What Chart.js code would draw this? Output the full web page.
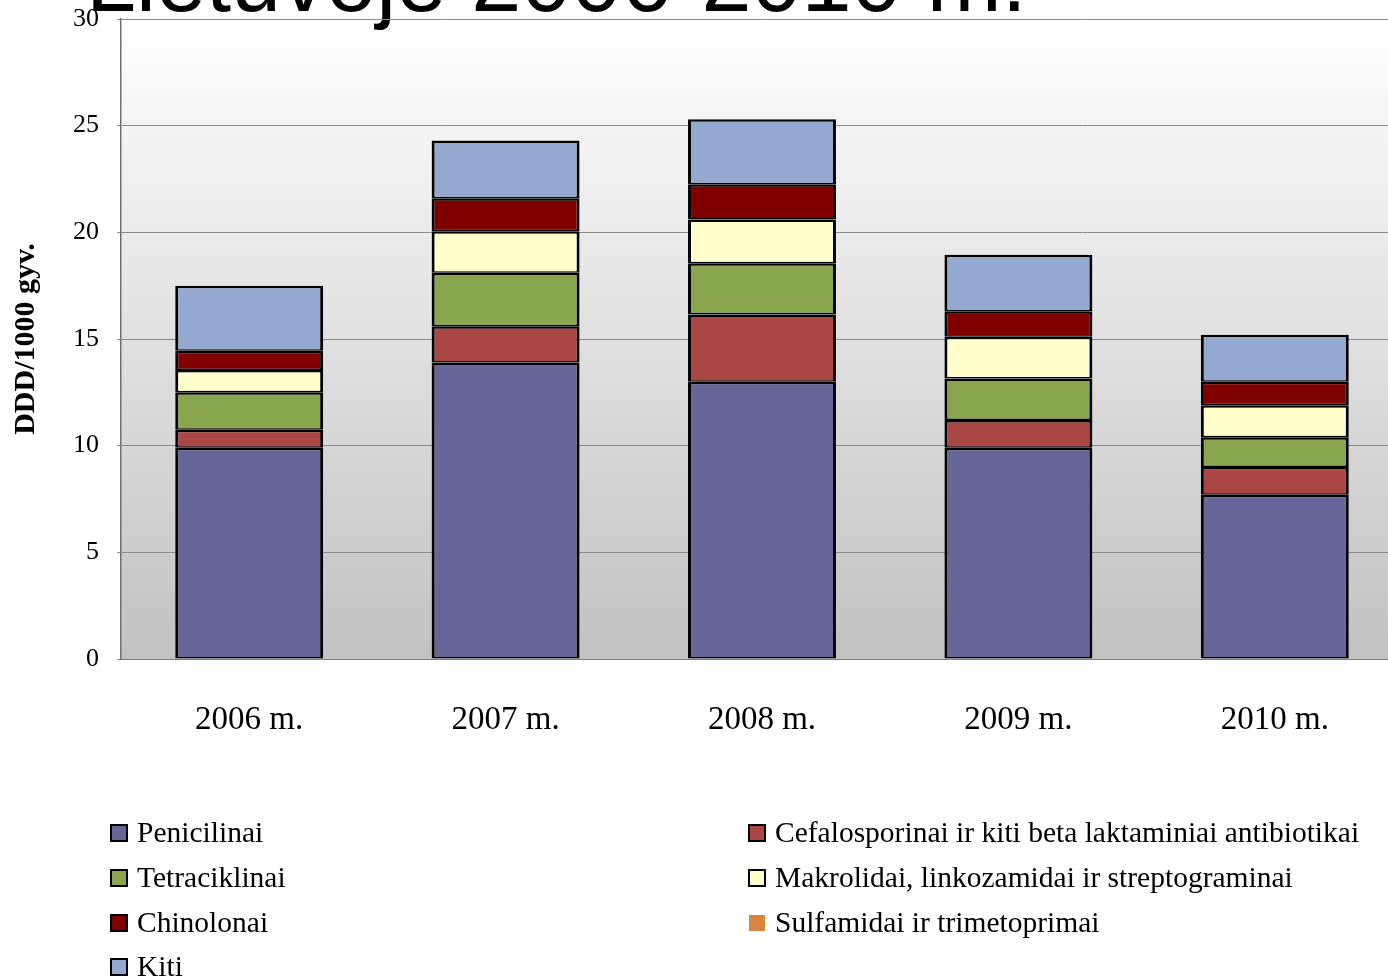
<!DOCTYPE html>
<html>
<head>
<meta charset="utf-8">
<script src="https://cdn.jsdelivr.net/npm/chart.js@4"></script>
<style>
  html, body { margin: 0; padding: 0; background: #fff; overflow: hidden; }
</style>
</head>
<body>
<canvas id="abChart" width="1403" height="980"></canvas>
<script>
const years = ["2006 m.", "2007 m.", "2008 m.", "2009 m.", "2010 m."];
const penicilinai = [9.9, 13.9, 13.0, 9.9, 7.7];
const cefalosporinai = [0.85, 1.7, 3.15, 1.3, 1.3];
const tetraciklinai = [1.75, 2.5, 2.4, 1.95, 1.4];
const makrolidai = [1.05, 1.95, 2.05, 1.95, 1.5];
const chinolonai = [0.9, 1.55, 1.65, 1.2, 1.1];
const sulfamidai = [0, 0, 0, 0, 0];
const kiti = [3.05, 2.7, 3.05, 2.65, 2.2];
const yTicks = [0, 5, 10, 15, 20, 25, 30];

const serif = "'Liberation Serif', 'Times New Roman', serif";

function ds(label, data, color, noBorder) {
  return {
    label: label,
    data: data,
    backgroundColor: color,
    borderColor: "#000",
    borderWidth: noBorder ? 0 : {top: 2.5, bottom: 1.5, left: 3, right: 3},
    borderSkipped: false,
    barPercentage: 0.577,
    categoryPercentage: 1
  };
}

// plot background gradient + big cut-off heading + two-column legend
const decor = {
  id: "decor",
  beforeDraw(chart) {
    const {ctx, chartArea: a} = chart;
    const g = ctx.createLinearGradient(0, a.top, 0, a.bottom);
    g.addColorStop(0, "#ffffff");
    g.addColorStop(1, "#c2c2c2");
    ctx.save();
    ctx.fillStyle = g;
    ctx.fillRect(a.left, a.top, a.right - a.left, a.bottom - a.top);
    ctx.fillStyle = "#000";
    ctx.font = "90px 'Liberation Sans', Arial, sans-serif";
    ctx.textBaseline = "alphabetic";
    ctx.fillText("Lietuvoje 2006-2010 m.", 86, 11);
    ctx.restore();
  },
  afterDraw(chart) {
    const ctx = chart.ctx;
    ctx.save();
    const cols = [111, 749];
    const rows = [833, 878, 923, 967];
    ctx.font = "29.5px " + serif;
    ctx.textBaseline = "middle";
    chart.data.datasets.forEach((d, i) => {
      const x = cols[i % 2];
      const y = rows[Math.floor(i / 2)];
      ctx.fillStyle = d.backgroundColor;
      ctx.fillRect(x, y - 8, 16, 16);
      if (d.borderWidth !== 0) {
        ctx.strokeStyle = "#000";
        ctx.lineWidth = 2;
        ctx.strokeRect(x, y - 8, 16, 16);
      }
      ctx.fillStyle = "#000";
      ctx.fillText(d.label, x + 26, y + 1);
    });
    ctx.restore();
  }
};

new Chart(document.getElementById("abChart"), {
  type: "bar",
  data: {
    labels: years,
    datasets: [
      ds("Penicilinai", penicilinai, "#666699"),
      ds("Cefalosporinai ir kiti beta laktaminiai antibiotikai", cefalosporinai, "#AA4643"),
      ds("Tetraciklinai", tetraciklinai, "#89A54E"),
      ds("Makrolidai, linkozamidai ir streptograminai", makrolidai, "#FFFFCC"),
      ds("Chinolonai", chinolonai, "#800000"),
      ds("Sulfamidai ir trimetoprimai", sulfamidai, "#DB843D", true),
      ds("Kiti", kiti, "#93A9CF")
    ]
  },
  options: {
    responsive: false,
    animation: false,
    layout: {padding: {top: 19, left: 0, right: 0, bottom: 0}},
    plugins: {legend: {display: false}, tooltip: {enabled: false}},
    scales: {
      x: {
        stacked: true,
        grid: {display: false},
        border: {color: "#808080", width: 1},
        ticks: {color: "#000", padding: 34, font: {family: serif, size: 33}},
        afterFit(s) { s.height = 321; s.paddingLeft = 0; s.paddingRight = 0; }
      },
      y: {
        stacked: true,
        min: 0,
        max: 30,
        afterBuildTicks(s) { s.ticks = yTicks.map(v => ({value: v})); },
        grid: {color: "#8c8c8c", lineWidth: 1, tickLength: 4},
        border: {color: "#707070", width: 1.5},
        ticks: {color: "#000", padding: 18, font: {family: serif, size: 26}},
        title: {
          display: true,
          text: "DDD/1000 gyv.",
          color: "#000",
          padding: {top: 8, bottom: 0},
          font: {family: serif, size: 30, weight: "bold"}
        },
        afterFit(s) { s.width = 121; s.paddingTop = 0; s.paddingBottom = 0; }
      }
    }
  },
  plugins: [decor]
});
</script>
</body>
</html>
